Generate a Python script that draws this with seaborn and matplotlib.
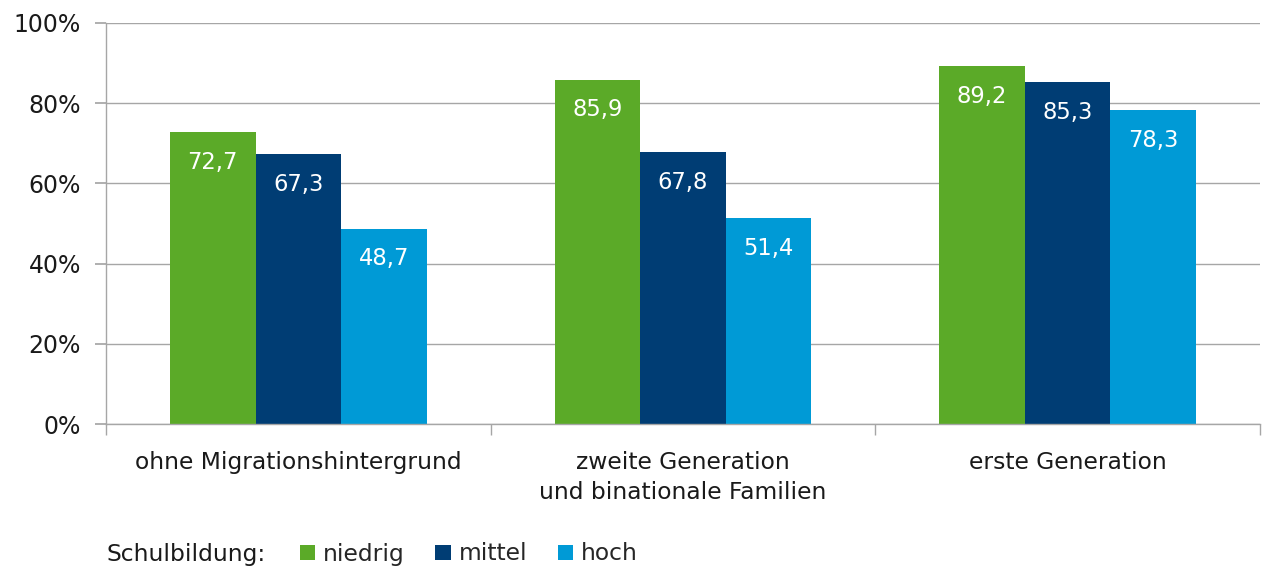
import matplotlib
matplotlib.use("Agg")
import matplotlib.pyplot as plt
import seaborn as sns
import pandas as pd
from matplotlib.ticker import FixedLocator, PercentFormatter

categories = ["ohne Migrationshintergrund", "zweite Generation\nund binationale Familien", "erste Generation"]
levels = ["niedrig", "mittel", "hoch"]
niedrig = [72.7, 85.9, 89.2]
mittel = [67.3, 67.8, 85.3]
hoch = [48.7, 51.4, 78.3]
colors = ["#5BAA28", "#003D74", "#009AD6"]

rows = []
for lvl, vals in zip(levels, [niedrig, mittel, hoch]):
    for c, v in zip(categories, vals):
        rows.append({"Kategorie": c, "Schulbildung": lvl, "Wert": v})
df = pd.DataFrame(rows)

sns.set_theme(style="white")
plt.rcParams["font.family"] = ["DejaVu Sans"]

fig = plt.figure(figsize=(12.63, 5.69), dpi=100)
ax = fig.add_axes([106/1263, 1 - 424/569, 1154/1263, (424 - 23)/569])

sns.barplot(data=df, x="Kategorie", y="Wert", hue="Schulbildung", order=categories,
            hue_order=levels, palette=colors, width=0.667, gap=0, saturation=1,
            edgecolor="none", linewidth=0, ax=ax)

for cont in ax.containers:
    labs = [f"{b.get_height():.1f}".replace(".", ",") for b in cont]
    ax.bar_label(cont, labels=labs, label_type="edge", padding=-30, color="white", fontsize=16.3)

ax.set_ylim(0, 100)
ax.set_xlim(-0.5, 2.5)
ax.yaxis.set_major_locator(FixedLocator([0, 20, 40, 60, 80, 100]))
ax.yaxis.set_major_formatter(PercentFormatter(decimals=0))
ax.grid(axis="y", color="#A6A6A6", linewidth=1)
ax.set_axisbelow(True)
for s in ["top", "right"]:
    ax.spines[s].set_visible(False)
for s in ["left", "bottom"]:
    ax.spines[s].set_color("#A6A6A6")
    ax.spines[s].set_linewidth(1)
ax.set_xlabel("")
ax.set_ylabel("")
ax.tick_params(axis="y", which="major", length=8, color="#A6A6A6", direction="out",
               labelsize=17, pad=10, left=True)
ax.tick_params(axis="x", which="major", length=0, labelsize=16.8, pad=19.5)
ax.xaxis.set_minor_locator(FixedLocator([-0.5, 0.5, 1.5, 2.5]))
ax.tick_params(axis="x", which="minor", length=8, color="#A6A6A6", direction="out", bottom=True)
for t in ax.get_xticklabels():
    t.set_linespacing(1.4)
    t.set_verticalalignment("top")
for t in ax.get_yticklabels() + ax.get_xticklabels():
    t.set_color("#1a1a1a")

handles, labels = ax.get_legend_handles_labels()
ax.get_legend().remove()
fig.text(106/1263, 1 - 554/569, "Schulbildung:", fontsize=16.8, va="center", ha="left", color="#1a1a1a")
fig.legend(handles, labels, loc="center left", bbox_to_anchor=(300/1263, 1 - 554/569),
           ncol=3, frameon=False, fontsize=16.8, handlelength=0.65, handleheight=0.65,
           handletextpad=0.35, columnspacing=1.3, borderaxespad=0, borderpad=0)

fig.savefig("out.png", dpi=100)
